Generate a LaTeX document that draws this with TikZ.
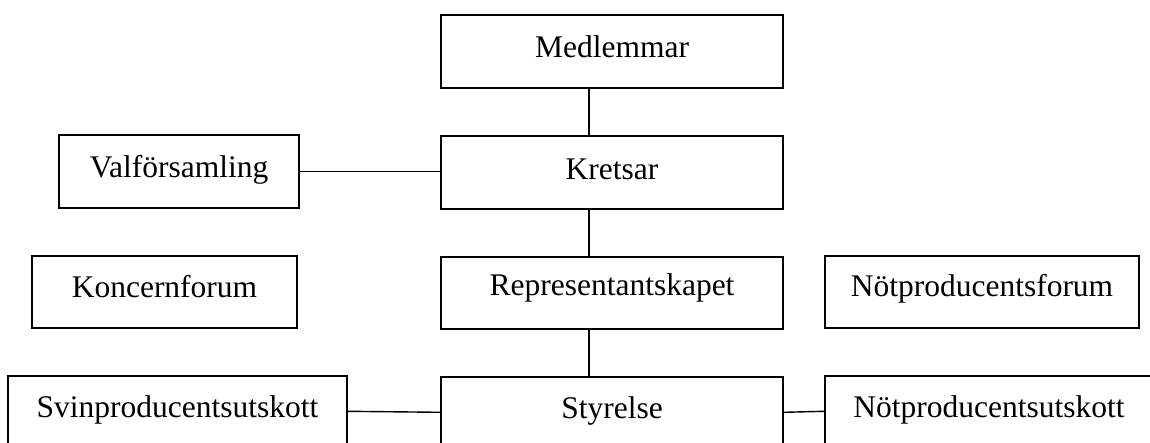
\documentclass[tikz,border=0pt]{standalone}
\usepackage{fontspec}
\setmainfont{Liberation Serif}
\begin{document}
\begin{tikzpicture}[x=1pt,y=-1pt,
  box/.style={draw, line width=1.4pt, inner sep=0pt, anchor=base,
    font=\fontsize{31.5}{36}\selectfont},
  link/.style={line width=1.4pt}]
\useasboundingbox (0,0) rectangle (1150,443);
\clip (0,0) rectangle (1150,443);

% boxes: placed at their text baseline
\node[box, minimum width=342pt, text height=43pt, text depth=30pt] (medl)  at (612,58)   {Medlemmar};
\node[box, minimum width=342pt, text height=44pt, text depth=29pt] (kret)  at (612,180)  {Kretsar};
\node[box, minimum width=240pt, text height=43pt, text depth=30pt] (valf)  at (179,178)  {Valförsamling};
\node[box, minimum width=265pt, text height=42pt, text depth=30pt] (konc)  at (164.5,298) {Koncernforum};
\node[box, minimum width=342pt, text height=39pt, text depth=33pt] (repr)  at (612,296)  {Representantskapet};
\node[box, minimum width=314pt, text height=41pt, text depth=31pt] (notf)  at (982,297)  {Nötproducentsforum};
\node[box, minimum width=339pt, text height=41pt, text depth=60pt] (svin)  at (177.5,417) {Svinproducentsutskott};
\node[box, minimum width=342pt, text height=41pt, text depth=60pt] (styr)  at (612,418)  {Styrelse};
\node[box, minimum width=328pt, text height=41pt, text depth=60pt] (notu)  at (989,417)  {Nötproducentsutskott};

% vertical chain, left of the box centres
\draw[link] ([xshift=-23pt]medl.south) -- ([xshift=-23pt]kret.north);
\draw[link] ([xshift=-23pt]kret.south) -- ([xshift=-23pt]repr.north);
\draw[link] ([xshift=-23pt]repr.south) -- ([xshift=-23pt]styr.north);

% side links
\draw[link] ([yshift=-37pt]valf.north east) -- ([yshift=-36pt]kret.north west);
\draw[link] ([yshift=-36pt]svin.north east) -- ([yshift=-36pt]styr.north west);
\draw[link] ([yshift=-36pt]styr.north east) -- ([yshift=-36pt]notu.north west);
\end{tikzpicture}
\end{document}
